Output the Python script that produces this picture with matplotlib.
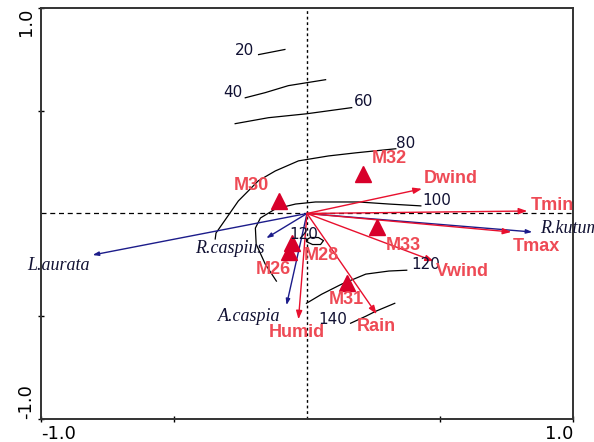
import matplotlib
matplotlib.use('Agg')
import matplotlib.pyplot as plt
import numpy as np

# environmental variables (red arrows): tip x, tip y, label x, label y
env_names = ['Dwind', 'Tmin', 'Tmax', 'Vwind', 'Rain', 'Humid']
env_x = [0.432, 0.828, 0.768, 0.477, 0.262, -0.032]
env_y = [0.120, 0.012, -0.090, -0.232, -0.490, -0.515]
env_lx = [0.440, 0.843, 0.772, 0.485, 0.187, -0.145]
env_ly = [0.168, 0.037, -0.163, -0.280, -0.549, -0.578]

# species (blue arrows)
sp_names = ['R.kutum', 'L.aurata', 'R.caspius', 'A.caspia']
sp_x = [0.847, -0.806, -0.153, -0.077]
sp_y = [-0.090, -0.202, -0.120, -0.446]
sp_lx = [0.877, -1.051, -0.421, -0.334]
sp_ly = [-0.071, -0.251, -0.168, -0.500]

# sites (triangles)
site_names = ['M30', 'M32', 'M33', 'M28', 'M26', 'M31']
site_x = [-0.104, 0.209, 0.262, -0.058, -0.066, 0.149]
site_y = [0.061, 0.193, -0.066, -0.144, -0.188, -0.339]
site_lx = [-0.277, 0.243, 0.296, -0.013, -0.191, 0.081]
site_ly = [0.134, 0.266, -0.154, -0.202, -0.271, -0.417]

# isolines
c20_x = [-0.182, -0.083]
c20_y = [0.773, 0.798]
c40_x = [-0.232, -0.157, -0.070, 0.070]
c40_y = [0.563, 0.588, 0.622, 0.651]
c60_x = [-0.270, -0.145, -0.002, 0.168]
c60_y = [0.437, 0.466, 0.485, 0.515]
c80_x = [-0.345, -0.342, -0.308, -0.258, -0.183, -0.119, -0.032, 0.081, 0.183, 0.334]
c80_y = [-0.124, -0.095, -0.032, 0.061, 0.159, 0.207, 0.256, 0.280, 0.295, 0.315]
c100_x = [-0.115, -0.157, -0.191, -0.194, -0.175, -0.119, -0.043, 0.032, 0.194, 0.308, 0.428]
c100_y = [-0.329, -0.246, -0.149, -0.071, -0.022, 0.022, 0.046, 0.056, 0.056, 0.046, 0.037]
c120a_x = [-0.002, 0.013, 0.043, 0.062, 0.051, 0.021, -0.002, -0.002]
c120a_y = [-0.127, -0.117, -0.117, -0.132, -0.151, -0.151, -0.137, -0.127]
c120b_x = [-0.002, 0.055, 0.130, 0.221, 0.308, 0.375]
c120b_y = [-0.437, -0.393, -0.344, -0.295, -0.280, -0.276]
c140_x = [0.164, 0.221, 0.258, 0.330]
c140_y = [-0.534, -0.500, -0.476, -0.437]
contours = [(c20_x, c20_y), (c40_x, c40_y), (c60_x, c60_y), (c80_x, c80_y),
            (c100_x, c100_y), (c120a_x, c120a_y), (c120b_x, c120b_y), (c140_x, c140_y)]
clab_text = ['20', '40', '60', '80', '100', '120', '120', '140']
clab_x = [-0.270, -0.315, 0.175, 0.334, 0.432, -0.066, 0.391, 0.043]
clab_y = [0.793, 0.588, 0.544, 0.339, 0.061, -0.100, -0.246, -0.515]

red_txt = '#ee4a55'
red_arr = '#e8102e'
blue = '#1c1c8a'

fig = plt.figure(figsize=(5.94, 4.42), dpi=100)
ax = fig.add_axes([0.069, 0.052, 0.8956, 0.930])
ax.set_xlim(-1.0, 1.0)
ax.set_ylim(-1.0, 1.0)

ax.axhline(0, color='k', ls=(0, (4, 3)), lw=0.9, zorder=1)
ax.axvline(0, color='k', ls=(0, (2, 2)), lw=1.0, zorder=1)

for cx, cy in contours:
    ax.plot(cx, cy, color='k', lw=0.9, zorder=2)
for t, x, y in zip(clab_text, clab_x, clab_y):
    ax.text(x, y, t, fontsize=11, color='#111133', ha='left', va='center', zorder=5)

for x, y in zip(sp_x, sp_y):
    ax.annotate('', xy=(x, y), xytext=(0, 0),
                arrowprops=dict(arrowstyle='-|>,head_length=0.35,head_width=0.12',
                                color=blue, lw=1.0, shrinkA=0, shrinkB=0), zorder=3)
for t, x, y in zip(sp_names, sp_lx, sp_ly):
    ax.text(x, y, t, fontsize=13, family='Liberation Serif', style='italic',
            color='#111133', ha='left', va='center', clip_on=False, zorder=5)

for x, y in zip(env_x, env_y):
    ax.annotate('', xy=(x, y), xytext=(0, 0),
                arrowprops=dict(arrowstyle='-|>,head_length=0.5,head_width=0.18',
                                color=red_arr, lw=1.0, shrinkA=0, shrinkB=0), zorder=4)
for t, x, y in zip(env_names, env_lx, env_ly):
    ax.text(x, y, t, fontsize=13, fontweight='bold', family='Liberation Sans',
            color=red_txt, ha='left', va='center', clip_on=(t == 'Tmin'), zorder=5)

ax.plot(site_x, site_y, '^', color='#d8002a', markersize=12, ls='none', zorder=4)
for t, x, y in zip(site_names, site_lx, site_ly):
    ax.text(x, y, t, fontsize=13, fontweight='bold', family='Liberation Sans',
            color=red_txt, ha='left', va='center', zorder=5)

for s in ax.spines.values():
    s.set_linewidth(1.4)
    s.set_color('#333333')

ax.set_xticks([-1.0, -0.5, 0.5, 1.0])
ax.set_xticklabels(['-1.0', '', '', '1.0'], fontsize=13)
ax.set_yticks([-1.0, -0.5, 0.5, 1.0])
ax.set_yticklabels(['-1.0', '', '', '1.0'], fontsize=13, rotation=90)
ax.tick_params(direction='inout', length=5, width=1.0, pad=2)
xl = ax.get_xticklabels()
xl[0].set_ha('left')
xl[-1].set_ha('right')
yl = ax.get_yticklabels()
yl[0].set_va('bottom')
yl[-1].set_va('top')

fig.savefig('out.png', dpi=100)
